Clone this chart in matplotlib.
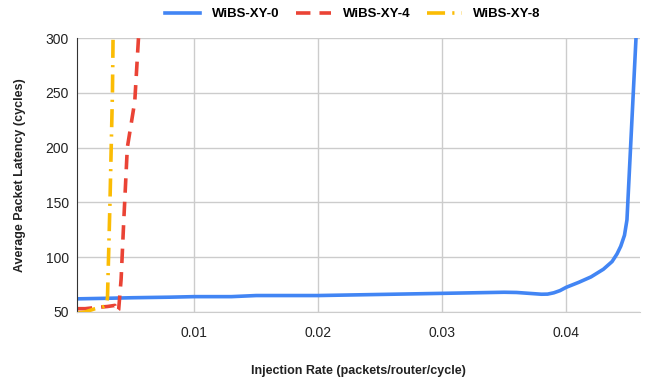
import matplotlib.pyplot as plt
import numpy as np

plt.rcParams['font.family'] = ['Liberation Sans', 'DejaVu Sans']

# WiBS-XY-0
x0 = [0.0006, 0.003, 0.005, 0.008, 0.01, 0.013, 0.015, 0.02, 0.025, 0.03,
      0.034, 0.035, 0.036, 0.037, 0.038, 0.0385, 0.039, 0.0395, 0.04, 0.041,
      0.042, 0.043, 0.0437, 0.0441, 0.0444, 0.0447, 0.0449, 0.04563]
y0 = [62, 62.5, 63, 63.5, 64, 64, 65, 65, 66, 67,
      67.8, 68, 67.8, 67, 66.2, 66.3, 67.5, 69.5, 72.5, 77,
      82, 89, 96, 103, 110, 120, 134, 300]

# WiBS-XY-4
x4 = [0.0006, 0.0012, 0.002, 0.003, 0.0036, 0.00376, 0.0039, 0.0041, 0.0043,
      0.0046, 0.0052, 0.0055]
y4 = [53, 53, 54, 55, 56, 50, 52, 80, 130, 200, 242, 300]

# WiBS-XY-8
x8 = [0.0006, 0.0012, 0.002, 0.0027, 0.0029, 0.003, 0.0032, 0.0034, 0.00345]
y8 = [49, 50, 53, 55, 56, 63, 150, 250, 300]

fig = plt.figure(figsize=(6.48, 3.8), dpi=100)
ax = fig.add_axes([0.119, 0.179, 0.869, 0.721])

l0, = ax.plot(x0, y0, color='#4285f4', lw=2.6, solid_joinstyle='round')
l4, = ax.plot(x4, y4, color='#ea4335', lw=2.6, linestyle=(0, (4, 2.5)))
l8, = ax.plot(x8, y8, color='#fbbc04', lw=2.6, linestyle=(0, (5, 2, 0.6, 2)))

ax.set_xlim(0.00055, 0.04597)
ax.set_ylim(50, 300)
ax.set_xticks([0.01, 0.02, 0.03, 0.04])
ax.set_xticklabels(['0.01', '0.02', '0.03', '0.04'])
ax.set_yticks([50, 100, 150, 200, 250, 300])
ax.grid(color='#cccccc', lw=1)
ax.set_axisbelow(True)
for s in ['top', 'right']:
    ax.spines[s].set_visible(False)
ax.spines['bottom'].set_color('#cccccc')
ax.spines['left'].set_color('#333333')
ax.tick_params(length=0, labelsize=10, colors='#222222', pad=6)
ax.tick_params(axis='x', pad=10)

ax.set_xlabel('Injection Rate (packets/router/cycle)', fontsize=9, fontweight='bold',
              color='#222222', labelpad=18)
ax.set_ylabel('Average Packet Latency (cycles)', fontsize=9, fontweight='bold',
              color='#222222', labelpad=14)

fig.legend([l0, l4, l8], ['WiBS-XY-0', 'WiBS-XY-4', 'WiBS-XY-8'],
           loc='upper center', bbox_to_anchor=(0.545, 1.01), ncol=3, frameon=False,
           prop={'weight': 'bold', 'size': 9.5}, handlelength=2.6, columnspacing=1.3,
           handletextpad=0.9)

fig.savefig('out.png', dpi=100)
